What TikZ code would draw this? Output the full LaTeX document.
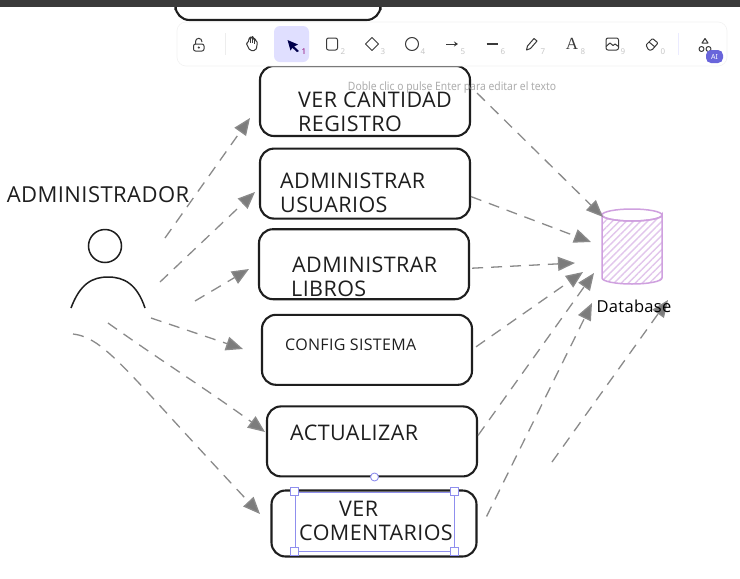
\documentclass[tikz,border=0pt]{standalone}
\usepackage{xcolor}
\usepackage{fontspec}
\usepackage{tikz}
\usetikzlibrary{arrows.meta, positioning, patterns.meta}
\newfontfamily\handfont[LetterSpace=2]{Open Sans}
\newfontfamily\uifont{Noto Sans}
\newfontfamily\hintfont[FakeStretch=0.9]{Noto Sans}
\definecolor{inkblack}{HTML}{1E1E1E}
\definecolor{dashgray}{HTML}{8A8A8A}
\definecolor{dbpurple}{HTML}{CFA0DF}
\definecolor{selblue}{HTML}{8F8FEE}
\definecolor{toolgray}{HTML}{3A3A3A}
\definecolor{badgeblue}{HTML}{6965DB}
\definecolor{activelilac}{HTML}{E0DFFF}
\tikzset{
  usecase/.style={rectangle, rounded corners=14, draw=inkblack, line width=2.1, minimum width=210, minimum height=70, inner sep=0},
  boxlabel/.style={anchor=west, align=left, inner sep=0, text=inkblack, font=\handfont\fontsize{21.5}{24}\selectfont},
  dasharrow/.style={draw=dashgray, line width=1.3, dash pattern=on 11pt off 8pt, -{Triangle[length=17pt,width=14pt,fill=dashgray!90!black]}},
  handle/.style={rectangle, draw=selblue, fill=white, line width=0.9, minimum size=8, inner sep=0},
  hotkey/.style={text=black!22, font=\uifont\fontsize{8}{8}\selectfont, inner sep=0},
  toolicon/.style={draw=toolgray, line width=1, line join=round},
  dbline/.style={draw=dbpurple, line width=1.5}
}
\begin{document}
\begin{tikzpicture}[x=1pt, y=-1pt, node distance=10.5pt]
\useasboundingbox (0,0) rectangle (740,579);
\fill[white] (0,0) rectangle (740,579);

% Use case boxes
\node[usecase, minimum width=205, minimum height=24] (hiddenbox) at (278,8) {};
\node[usecase] (vercant) at (365,101) {};
\node[usecase, below=of vercant] (adminusers) {};
\node[usecase, below=8.5pt of adminusers, xshift=-1pt] (adminbooks) {};
\node[usecase, below=13.5pt of adminbooks, xshift=3pt] (config) {};
\node[usecase, below=19.5pt of config, xshift=5pt] (actualizar) {};
\node[usecase, below=12pt of actualizar, xshift=2pt, minimum width=205, minimum height=66] (comentarios) {};

% Box texts
\node[boxlabel] (vercanttext) at (298,112) {VER CANTIDAD\\REGISTRO};
\node[boxlabel] (adminuserstext) at (280,193) {ADMINISTRAR\\USUARIOS};
\node[boxlabel] (adminbookstext) at (291,276.5) {\hspace*{1pt}ADMINISTRAR\\LIBROS};
\node[boxlabel, font=\handfont\fontsize{16}{16}\selectfont] (configtext) at (285,345) {CONFIG SISTEMA};
\node[boxlabel] (actualizartext) at (290,433) {ACTUALIZAR};
\node[boxlabel] (comentariostext) at (299,521) {\hspace*{40pt}VER\\COMENTARIOS};

% Selection frame around the last text
\node[draw=selblue, line width=1, minimum width=159, minimum height=59, inner sep=0] (selframe) at (374.5,521.5) {};
\foreach \corner in {north west, north east, south west, south east}
  \node[handle] at (selframe.\corner) {};
\node[circle, draw=selblue, fill=white, line width=0.9, minimum size=8, inner sep=0] (rotknob) at (374.5,477) {};

% Actor
\node[circle, draw=inkblack, line width=1.5, minimum size=33, inner sep=0] (head) at (105,246) {};
\coordinate (bodyleft) at (71,308);
\coordinate (bodyright) at (145,308);
\draw[inkblack, line width=1.5] (bodyleft) .. controls (80,284) and (92,277) .. (108,277) .. controls (124,277) and (137,284) .. (bodyright);
\node[inner sep=0, text=inkblack, font=\handfont\fontsize{22}{24}\selectfont] (actor) at (98,195) {ADMINISTRADOR};

% Database
\draw[dbline, pattern={Lines[angle=45, distance=5pt, line width=1.4pt]}, pattern color=dbpurple!60]
  (602,215) -- (602,278) arc[x radius=30, y radius=6, start angle=180, end angle=0] -- (662,215) arc[x radius=30, y radius=6, start angle=0, end angle=180] -- cycle;
\draw[dbline] (632,215) ellipse[x radius=30, y radius=6];

% Free ends of the connectors
\foreach \name/\pos in {a1/{165,238}, a2/{160,282}, a3/{195,301}, a4/{151,318}, a5/{108,323}, a6/{73,334},
    t1/{250,118}, t2/{255,192}, t3/{249,269}, t4/{243,349}, t5/{265,432}, t6/{260,514},
    d1/{603,217}, d2/{591,242}, d3/{575,263}, d4/{583,272}, d5/{594,273}, d6/{592,303}, d7/{668,300}, s7/{552,462}}
  \coordinate (\name) at (\pos);

% Actor to use cases
\draw[dasharrow] (a1) -- (t1);
\draw[dasharrow] (a2) -- (t2);
\draw[dasharrow] (a3) -- (t3);
\draw[dasharrow] (a4) -- (t4);
\draw[dasharrow] (a5) .. controls (160,360) and (215,395) .. (t5);
\draw[dasharrow] (a6) .. controls (105,338) and (125,370) .. (t6);

% Use cases to database
\draw[dasharrow] (vercant.east |- 0,93) ++(6,0) -- (d1);
\draw[dasharrow] (adminusers.east) ++(0,13) -- (d2);
\draw[dasharrow] (adminbooks.east) ++(2,4) -- (d3);
\draw[dasharrow] (config.east) ++(3,-3) -- (d4);
\draw[dasharrow] (actualizar.east) ++(0,-6) -- (d5);
\draw[dasharrow] (comentarios.east) ++(9,-7) -- (d6);
\draw[dasharrow] (s7) -- (d7);
\node[inner sep=0, text=black, font=\handfont\fontsize{16.5}{18}\selectfont] (databasetext) at (634,306) {Database};

% Editor bars on top
\fill[toolgray] (0,0) rectangle (740,7);
\node[rectangle, rounded corners=9, fill=white, draw=black!5, line width=0.6, minimum width=550, minimum height=44, inner sep=0] (toolbar) at (452,44) {};
\fill[black!7] (225,33) rectangle (225.8,55);
\fill[blue!8] (678,33) rectangle (678.8,55);
\node[rectangle, rounded corners=6, fill=activelilac, minimum width=35, minimum height=36, inner sep=0] (activetool) at (291.5,44) {};

% Toolbar icons
\draw[toolicon, rounded corners=2] (193.5,44) rectangle (204,51);
\draw[toolicon] (195.5,44) -- (195.5,41.5) arc[x radius=3.2, y radius=3.2, start angle=180, end angle=360] -- (201.9,42);
\fill[toolgray] (198.8,47.5) circle[radius=1.2];
\draw[toolicon, rounded corners=1.5] (247.5,46) -- (246,42.5) -- (248.5,43) -- (248.5,38.5) -- (250.5,38.5) -- (250.5,37) -- (252.5,37) -- (252.5,38) -- (254.5,38.5) -- (254.5,40) -- (257,40.5) -- (257,46.5) -- (255.5,50.5) -- (250,50.5) -- cycle;
\draw[toolgray, line width=0.7] (250.5,38.5) -- (250.5,43) (252.5,38) -- (252.5,43) (254.5,40) -- (254.5,43.5);
\fill[black!70!blue] (287.5,40) -- (298,44.5) -- (294.2,46.5) -- (299,51) -- (297,52) -- (292.4,47.8) -- (290.5,50.5) -- cycle;
\node[text=red!55!blue, font=\uifont\fontsize{8}{8}\selectfont, inner sep=0] (key1) at (304,52) {1};
\draw[toolicon, rounded corners=2] (326.5,38) rectangle (337.5,50);
\draw[toolicon] (372,37.5) -- (378.5,44) -- (372,50.5) -- (365.5,44) -- cycle;
\draw[toolicon] (412,44) circle[radius=6.5];
\draw[toolicon, -{Stealth[length=4pt,width=5pt]}] (446,44) -- (458,44);
\draw[toolgray, line width=1.5] (486.5,44) -- (497.5,44);
\draw[toolicon] (526.5,50) -- (527.5,46) -- (534,38.5) -- (537,41) -- (530.5,48.5) -- cycle;
\node[text=toolgray, inner sep=0, font=\fontspec{Liberation Serif}\fontsize{17}{17}\selectfont] (fonttool) at (572,44) {A};
\draw[toolicon, rounded corners=2] (606,38) rectangle (618.5,50);
\draw[toolicon] (606,46.5) -- (610,43) -- (613,45.5) -- (615,44) -- (618.5,46.5);
\draw[toolicon, rounded corners=1] (646,45) -- (652.5,38.5) -- (658,43) -- (652,50) -- (648.5,50) -- cycle;
\draw[toolicon] (649,42) -- (655,47);
\draw[toolicon] (705,38.5) -- (708,43) -- (702,43) -- cycle (701.5,49) circle[radius=2.5] (708.5,49) circle[radius=2.5];
\node[rectangle, rounded corners=5, fill=badgeblue, minimum width=17, minimum height=13, inner sep=0, text=white, font=\uifont\bfseries\fontsize{7}{7}\selectfont] (aibadge) at (714.5,56.5) {AI};

% Hotkey digits
\foreach \xpos/\digit in {343/2, 383/3, 423/4, 463/5, 503/6, 543/7, 583/8, 623/9, 663/0}
  \node[hotkey] at (\xpos,52) {\digit};

% Editing hint
\node[text=black!32, inner sep=0, font=\hintfont\fontsize{11.5}{12}\selectfont] (hint) at (452,87.5) {Doble clic o pulse Enter para editar el texto};
\end{tikzpicture}
\end{document}
